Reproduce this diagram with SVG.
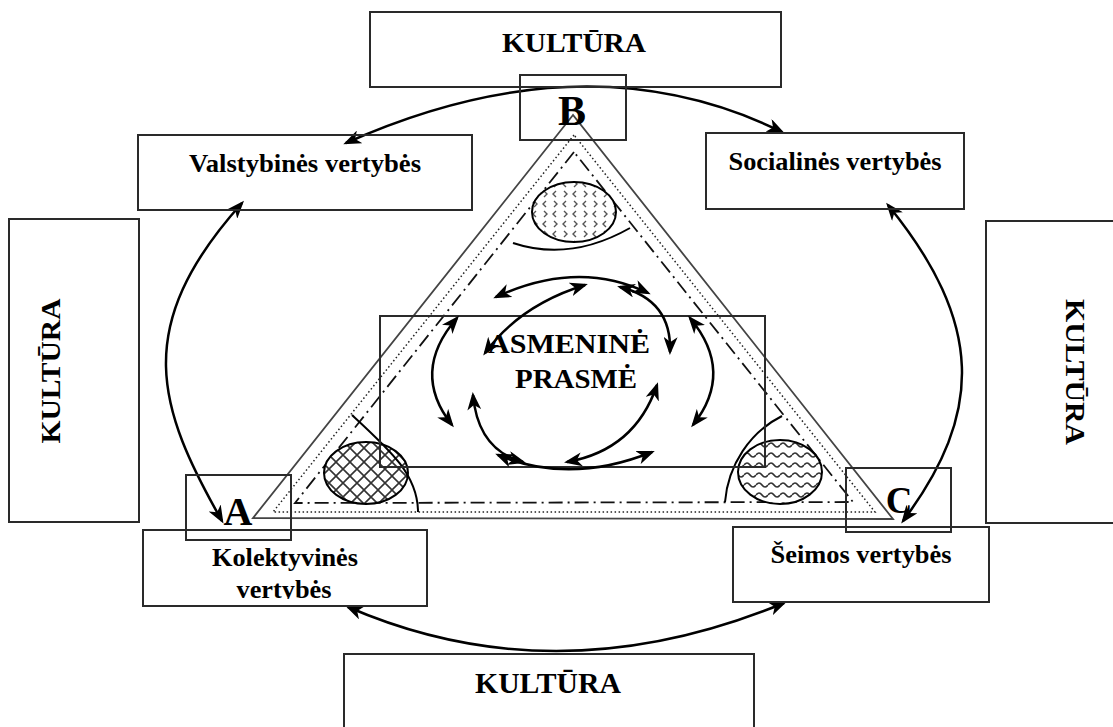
<svg xmlns="http://www.w3.org/2000/svg" width="1113" height="727" viewBox="0 0 1113 727">
<style>
.box{fill:none;stroke:#2a2a2a;stroke-width:2}
.t{font-family:"Liberation Serif","Times New Roman",serif;font-weight:bold;fill:#000}
.arr{fill:none;stroke:#000;stroke-width:2.5;marker-start:url(#ah);marker-end:url(#ah)}
.thin{fill:none;stroke:#000;stroke-width:2}
</style>
<defs>
<marker id="ah" markerUnits="userSpaceOnUse" markerWidth="18" markerHeight="14" refX="15" refY="7" orient="auto-start-reverse" viewBox="0 0 18 14">
<path d="M0,0 L18,7 L0,14 L5,7 z" fill="#000"/>
</marker>
<pattern id="hatch" width="14" height="14" patternUnits="userSpaceOnUse">
<rect width="14" height="14" fill="#fff"/>
<path d="M-1,-1 L15,15 M15,-1 L-1,15" stroke="#333" stroke-width="1.6"/>
</pattern>
<pattern id="wave" width="12" height="10" patternUnits="userSpaceOnUse">
<rect width="12" height="10" fill="#fff"/>
<path d="M0,5 Q3,1 6,5 T12,5" fill="none" stroke="#333" stroke-width="1.7"/>
</pattern>
<pattern id="chev" width="20" height="20" patternUnits="userSpaceOnUse">
<rect width="20" height="20" fill="#fff"/>
<path d="M6,1 L3,4 L6,7 M14,1 L17,4 L14,7 M4,11 L7,14 L4,17 M16,11 L13,14 L16,17" fill="none" stroke="#555" stroke-width="1.4"/>
</pattern>
<clipPath id="kolclip"><rect x="143" y="530" width="284" height="69"/></clipPath>
</defs>
<rect width="1113" height="727" fill="#fff"/>

<g id="triangle">
<polygon points="573,115 253,518 893,519" fill="none" stroke="#444" stroke-width="1.8"/>
<polygon points="574,135 273,512 875,512" fill="none" stroke="#222" stroke-width="1.5" stroke-dasharray="1.5 2.5"/>
<polygon points="574,152 295,503 853,502" fill="none" stroke="#111" stroke-width="1.8" stroke-dasharray="14 5 2 5"/>
</g>

<g id="ellipse-top">
<ellipse cx="574" cy="212" rx="42" ry="30" fill="url(#chev)" stroke="#000" stroke-width="2"/>
<path class="thin" d="M513,243 Q570,262 630,228"/>
</g>
<g id="ellipse-left">
<ellipse cx="366" cy="473" rx="42" ry="31" fill="url(#hatch)" stroke="#000" stroke-width="2"/>
<path class="thin" d="M352,415 C390,450 418,475 418,512"/>
</g>
<g id="ellipse-right">
<ellipse cx="780" cy="472" rx="42" ry="32" fill="url(#wave)" stroke="#000" stroke-width="2"/>
<path class="thin" d="M725,502 C728,465 750,432 782,416"/>
</g>

<g id="asmenine-prasme">
<rect class="box" x="380" y="316" width="385" height="151"/>
<text class="t" x="569" y="353" font-size="28" text-anchor="middle" textLength="162" lengthAdjust="spacingAndGlyphs">ASMENINĖ</text>
<text class="t" x="576" y="388" font-size="28" text-anchor="middle" textLength="122" lengthAdjust="spacingAndGlyphs">PRASMĖ</text>
</g>

<g id="connectors">
<path class="arr" d="M346,143 Q586,36 782,132"/>
<path class="arr" d="M242,203 C130,328 158,408 222,521"/>
<path class="arr" d="M888,205 C984,323 984,413 903,521"/>
<path class="arr" d="M348,607 Q556,697 784,603"/>
<path class="arr" d="M496,297 Q578,259 648,293"/>
<path class="arr" d="M585,285 Q520,305 485,353"/>
<path class="arr" d="M620,287 Q672,300 670,352"/>
<path class="arr" d="M457,318 Q410,372 452,425"/>
<path class="arr" d="M690,318 Q735,372 693,425"/>
<path class="arr" d="M473,395 Q478,450 523,462"/>
<path class="arr" d="M498,455 Q570,485 652,452"/>
<path class="arr" d="M657,385 Q635,450 567,462"/>
</g>

<g id="kultura-top">
<rect class="box" x="370" y="12" width="411" height="75"/>
<text class="t" x="574" y="52" font-size="28" text-anchor="middle" textLength="144" lengthAdjust="spacingAndGlyphs">KULTŪRA</text>
</g>
<g id="kultura-left">
<rect class="box" x="9" y="219" width="130" height="303"/>
<text class="t" font-size="28" text-anchor="middle" textLength="145" lengthAdjust="spacingAndGlyphs" transform="translate(60,371) rotate(-90)">KULTŪRA</text>
</g>
<g id="kultura-right">
<rect class="box" x="986" y="221" width="140" height="302"/>
<text class="t" font-size="28" text-anchor="middle" textLength="146" lengthAdjust="spacingAndGlyphs" transform="translate(1066,372) rotate(90)">KULTŪRA</text>
</g>
<g id="kultura-bottom">
<rect class="box" x="344" y="654" width="410" height="90"/>
<text class="t" x="548" y="693" font-size="29" text-anchor="middle" textLength="146" lengthAdjust="spacingAndGlyphs">KULTŪRA</text>
</g>

<g id="valstybines">
<rect class="box" x="138" y="135" width="334" height="75"/>
<text class="t" x="305" y="172" font-size="25" text-anchor="middle" textLength="232" lengthAdjust="spacingAndGlyphs">Valstybinės vertybės</text>
</g>
<g id="socialines">
<rect class="box" x="706" y="133" width="258" height="76"/>
<text class="t" x="835" y="170" font-size="25" text-anchor="middle" textLength="213" lengthAdjust="spacingAndGlyphs">Socialinės vertybės</text>
</g>
<g id="kolektyvines">
<rect class="box" x="143" y="530" width="284" height="76"/>
<text class="t" x="285" y="566" font-size="26" text-anchor="middle" textLength="146" lengthAdjust="spacingAndGlyphs">Kolektyvinės</text>
<text class="t" x="284" y="598" font-size="26" text-anchor="middle" textLength="95" lengthAdjust="spacingAndGlyphs" clip-path="url(#kolclip)">vertybės</text>
</g>
<g id="seimos">
<rect class="box" x="733" y="527" width="256" height="75"/>
<text class="t" x="861" y="563" font-size="26" text-anchor="middle" textLength="181" lengthAdjust="spacingAndGlyphs">Šeimos vertybės</text>
</g>

<g id="node-B">
<rect class="box" x="520" y="75" width="106" height="65"/>
<text class="t" x="572" y="125" font-size="42" text-anchor="middle">B</text>
</g>
<g id="node-A">
<rect class="box" x="186" y="475" width="105" height="65"/>
<text class="t" x="238" y="525" font-size="40" text-anchor="middle">A</text>
</g>
<g id="node-C">
<rect class="box" x="846" y="468" width="105" height="64"/>
<text class="t" x="899" y="513" font-size="37" text-anchor="middle">C</text>
</g>
</svg>
